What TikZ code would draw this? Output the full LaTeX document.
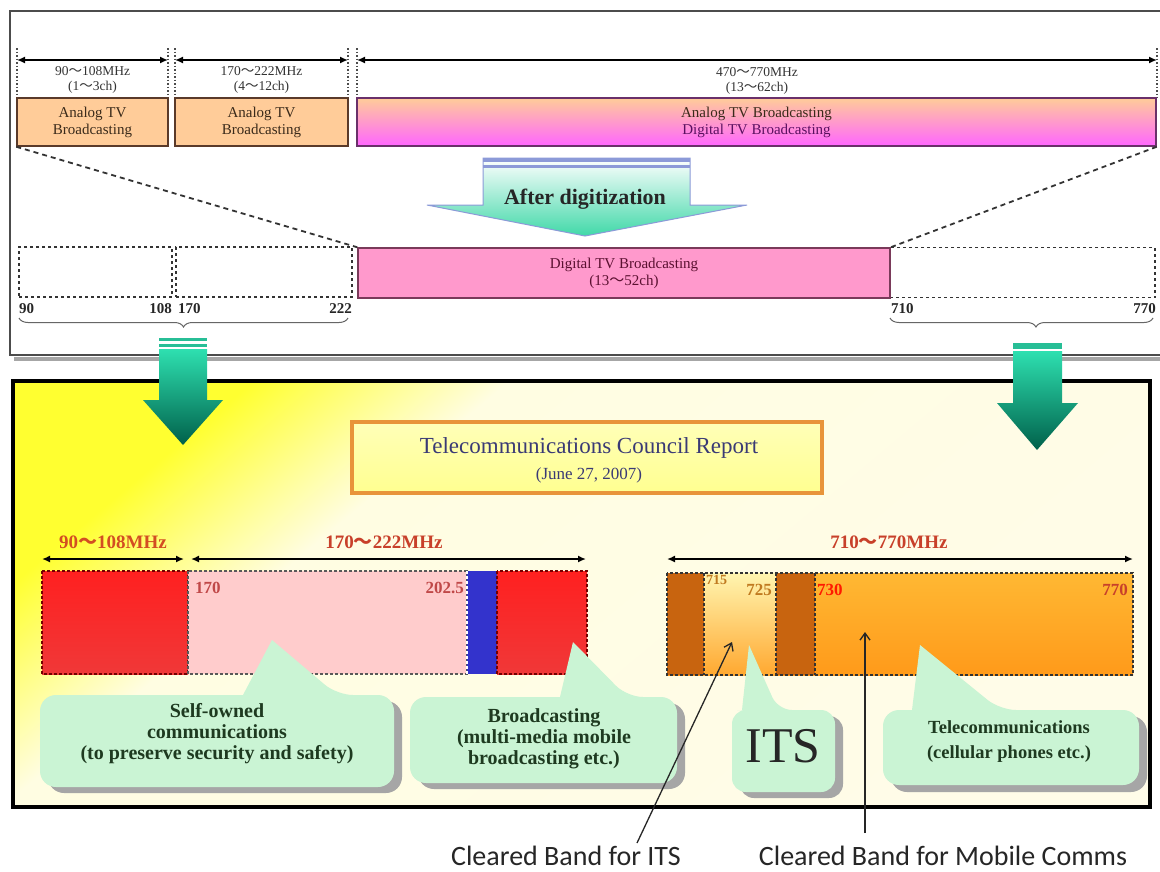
\documentclass[tikz,border=0pt]{standalone}
\usepackage{fontspec}
\setmainfont{Liberation Serif}
\newfontfamily\calfont{Carlito}
\newfontfamily\cjkfont{Noto Sans CJK SC}
\usetikzlibrary{arrows.meta,decorations.pathreplacing}
\newcommand\wtl{{\cjkfont ～}}
\definecolor{peach}{HTML}{FFCC99}
\definecolor{magen}{HTML}{FF66FF}
\definecolor{pinkd}{HTML}{FF99CC}
\definecolor{boxbrn}{HTML}{5A3A2A}
\definecolor{purp}{HTML}{6A306A}
\definecolor{wine}{HTML}{7A3A5A}
\definecolor{winetxt}{HTML}{5A1030}
\definecolor{txtbrown}{HTML}{3A2A1A}
\definecolor{txtpurp}{HTML}{5A1060}
\definecolor{mint}{HTML}{CAF4D4}
\definecolor{tealtop}{HTML}{2EE0B0}
\definecolor{tealbot}{HTML}{00604A}
\definecolor{brn}{HTML}{C8640F}
\definecolor{redbar}{HTML}{FF2020}
\definecolor{redbar2}{HTML}{F03838}
\definecolor{bluebar}{HTML}{3333CC}
\definecolor{lpink}{HTML}{FFCCCC}
\definecolor{freqred}{HTML}{C8402A}
\definecolor{numred}{HTML}{C04848}
\definecolor{numorg}{HTML}{C07A20}
\definecolor{titleblue}{HTML}{3A3A75}
\definecolor{orng}{HTML}{E8943A}
\definecolor{dgreen}{HTML}{1E3A20}
\definecolor{lav}{HTML}{8C9AD8}
\definecolor{adg}{HTML}{40D8A8}
\definecolor{byel}{HTML}{FFFF30}
\definecolor{bcream}{HTML}{FFFDE2}
\definecolor{bcream2}{HTML}{FFFCE8}
\definecolor{ty1}{HTML}{FFFFB8}
\definecolor{ty2}{HTML}{FFFF90}
\definecolor{og1}{HTML}{FFB833}
\definecolor{og2}{HTML}{FFE566}
\definecolor{og3}{HTML}{FF9A1A}
\definecolor{its1}{HTML}{FFF5B0}
\definecolor{its2}{HTML}{FFE680}
\definecolor{its3}{HTML}{FFA830}
\pgfdeclarehorizontalshading{bgsh}{100bp}{color(0bp)=(byel); color(25bp)=(byel); color(36bp)=(bcream); color(75bp)=(bcream2); color(100bp)=(bcream2)}
\tikzset{
  lbl/.style={font=\fontsize{13.5}{15}\selectfont, text=black!80, inner sep=0, text height=9pt, text depth=2pt},
  abox/.style={draw=boxbrn, line width=1.5, fill=peach, minimum height=48, inner sep=0, align=center, font=\fontsize{15}{17}\selectfont, text=txtbrown},
  dimarrow/.style={{Latex[length=8pt,width=7pt]}-{Latex[length=8pt,width=7pt]}, line width=1.5},
  ebox/.style={draw=black!80, dashed, line width=1.5, minimum height=50, inner sep=0},
  dashln/.style={draw=black!80, line width=1.8, dash pattern=on 5pt off 4pt},
  numlbl/.style={font=\bfseries\fontsize{15}{17}\selectfont, inner sep=0, text=black!85},
  brc/.style={decorate, decoration={brace, amplitude=9pt}, draw=black!60, line width=1},
  garrow/.style={top color=tealtop, bottom color=tealbot, draw=none},
  gband/.style={fill=tealtop!85!black},
  freq/.style={font=\bfseries\fontsize{19}{21}\selectfont, text=freqred, inner sep=0},
  bardash/.style={dash pattern=on 3pt off 2pt, line width=1.2},
  calbody/.style={fill=mint},
  cshadow/.style={fill=black!35},
  ctext/.style={font=\bfseries\fontsize{20}{21}\selectfont, text=dgreen, align=center, inner sep=0},
  barnum/.style={font=\bfseries\fontsize{17}{19}\selectfont, inner sep=0},
  ann/.style={-{Straight Barb[length=7pt,width=10pt]}, line width=1.3, draw=black!85},
  anntext/.style={font=\calfont\fontsize{28}{29}\selectfont, text=black!85, inner sep=0, text height=19pt, text depth=1pt}
}
\begin{document}
\begin{tikzpicture}[x=1pt,y=-1pt]
\useasboundingbox (0,0) rectangle (1160,871);
\fill[white] (0,0) rectangle (1160,871);

% ---------- top frame ----------
\draw[black!35, line width=4] (14,359) -- (1165,359);
\draw[black!70, line width=1.5] (10,11) rectangle (1175,355);

\foreach \x in {17,168,175,348,357,1157} \draw[black!70, line width=1.5, dotted] (\x,48) -- (\x,98);
\coordinate (a1l) at (17,60);  \coordinate (a1r) at (168,60);
\coordinate (a2l) at (175,60); \coordinate (a2r) at (348,60);
\coordinate (a3l) at (357,60); \coordinate (a3r) at (1157,60);
\draw[dimarrow] (a1l) -- (a1r);
\draw[dimarrow] (a2l) -- (a2r);
\draw[dimarrow] (a3l) -- (a3r);
\node[lbl] (l1a) at (92.5,72) {90\wtl108MHz};
\node[lbl] (l1b) at (92.5,87) {(1\wtl3ch)};
\node[lbl] (l2a) at (261.5,72) {170\wtl222MHz};
\node[lbl] (l2b) at (261.5,87) {(4\wtl12ch)};
\node[lbl] (l3a) at (757,73) {470\wtl770MHz};
\node[lbl] (l3b) at (757,88) {(13\wtl62ch)};

\node[abox, minimum width=151] (b1) at (92.5,122) {Analog TV\\Broadcasting};
\node[abox, minimum width=173] (b2) at (261.5,122) {Analog TV\\Broadcasting};
\node[abox, minimum width=799, top color=peach, bottom color=magen, draw=purp] (b3) at (756.5,122)
  {{\color{txtbrown}Analog TV Broadcasting}\\{\color{txtpurp}Digital TV Broadcasting}};

% after digitization arrow
\path[draw=lav, line width=1, top color=white, bottom color=adg]
  (483,158) -- (690,158) -- (690,205) -- (747,205) -- (585,236) -- (427,205) -- (483,205) -- cycle;
\fill[lav] (483,158) rectangle (690,161.5);
\fill[lav] (483,164.5) rectangle (690,168);
\node[font=\bfseries\fontsize{22}{24}\selectfont, text=black!85, inner sep=0] (ad) at (585,199) {After digitization};

% after boxes
\node[ebox, minimum width=153] (eA) at (95.5,272) {};
\node[ebox, minimum width=176] (eB) at (264,272) {};
\node[ebox, minimum width=265] (eC) at (1022.5,272.5) {};
\node[draw=wine, line width=1.5, fill=pinkd, minimum width=532, minimum height=50, inner sep=0, align=center,
      font=\fontsize{15}{17}\selectfont, text=winetxt] (dig) at (624,273) {Digital TV Broadcasting\\(13\wtl52ch)};
\draw[dashln] (b1.south west) -- (dig.north west);
\draw[dashln] (b3.south east) -- (dig.north east);

\node[numlbl, anchor=west] (n90) at (19,309) {90};
\node[numlbl, anchor=east] (n108) at (172,309) {108};
\node[numlbl, anchor=west] (n170) at (178,309) {170};
\node[numlbl, anchor=east] (n222) at (352,309) {222};
\node[numlbl, anchor=west] (n710) at (891,309) {710};
\node[numlbl, anchor=east] (n770) at (1156,309) {770};
\draw[brc] (348,318) -- (19,318);
\draw[brc, decoration={brace, amplitude=9pt, aspect=0.445}] (1153,318) -- (890,318);

% ---------- bottom frame ----------
\shade[shading=bgsh, shading angle=-50] (13,381) rectangle (1150,807);
\draw[line width=4] (13,381) rectangle (1150,807);

% green arrows
\path[garrow] (159,349) -- (207,349) -- (207,400) -- (223,400) -- (183,445) -- (143,400) -- (159,400) -- cycle;
\fill[gband] (159,338) rectangle (207,341);
\fill[gband] (159,343.5) rectangle (207,347);
\path[garrow] (1013,351) -- (1062,351) -- (1062,403) -- (1078,403) -- (1037,450) -- (997,403) -- (1013,403) -- cycle;
\fill[gband] (1013,343) rectangle (1062,349);

% title
\node[draw=orng, line width=4, top color=ty1, bottom color=ty2, minimum width=470, minimum height=71, inner sep=0] (title) at (587,457.5) {};
\node[font=\fontsize{23}{25}\selectfont, text=titleblue, inner sep=0] (t1) at (589,448) {Telecommunications Council Report};
\node[font=\fontsize{17}{19}\selectfont, text=titleblue, inner sep=0] (t2) at (589,475) {(June 27, 2007)};

% frequency ranges
\node[freq, text=freqred!80!orange] (f1) at (113,542) {90\wtl108MHz};
\node[freq] (f2) at (384,542) {170\wtl222MHz};
\node[freq] (f3) at (889,542) {710\wtl770MHz};
\coordinate (f1l) at (42,559);  \coordinate (f1r) at (184,559);
\coordinate (f2l) at (191,559); \coordinate (f2r) at (586,559);
\coordinate (f3l) at (667,559); \coordinate (f3r) at (1133,559);
\draw[dimarrow, line width=2] (f1l) -- (f1r);
\draw[dimarrow, line width=2] (f2l) -- (f2r);
\draw[dimarrow, line width=2] (f3l) -- (f3r);

% bars
\shade[top color=redbar, bottom color=redbar2] (42,571) rectangle (188,674);
\draw[bardash, draw=red!45!black] (42,571) rectangle (188,674);
\fill[lpink] (188,571) rectangle (467,674);
\draw[bardash, draw=black!65] (188,571) rectangle (467,674);
\fill[bluebar] (467,571) rectangle (497,674);
\draw[bardash, draw=white] (467,571) -- (467,674);
\shade[top color=redbar, bottom color=redbar2] (497,571) rectangle (587,674);
\draw[bardash, draw=red!45!black] (497,571) rectangle (587,674);

\shade[top color=og1, middle color=og2, bottom color=og3] (667,573) rectangle (1133,675);
\shade[top color=its1, middle color=its2, bottom color=its3] (704,573) rectangle (776,675);
\fill[brn] (667,573) rectangle (704,675);
\fill[brn] (776,573) rectangle (815,675);
\draw[bardash, draw=black!80] (667,573) rectangle (1133,675);
\draw[bardash, draw=black!80] (704,573) -- (704,675);
\draw[bardash, draw=black!80] (776,573) -- (776,675) (815,573) -- (815,675);

\node[barnum, text=numred, anchor=west] (m170) at (195,588) {170};
\node[barnum, text=numred, anchor=east] (m2025) at (464,588) {202.5};
\node[barnum, text=numorg, anchor=west, font=\bfseries\fontsize{14}{16}\selectfont] (m715) at (706,580) {715};
\node[barnum, text=numorg, anchor=east] (m725) at (772,590) {725};
\node[barnum, text=red!80!orange, anchor=west] (m730) at (817,590) {730};
\node[barnum, text=freqred, anchor=east] (m770) at (1128,590) {770};

% callouts
\fill[cshadow, rounded corners=16pt] (48,701) rectangle (402,793);
\path[calbody] (200,695) [rounded corners=16pt] -- (40,695) -- (40,787) -- (394,787) -- (394,695) -- (337,695)
  [sharp corners] -- (272,640) -- (243,695) -- cycle;
\node[ctext] (c1) at (217,734) {Self-owned\\communications\\(to preserve security and safety)};

\fill[cshadow, rounded corners=16pt] (418,703) rectangle (685,789);
\path[calbody] (480,697) [rounded corners=16pt] -- (410,697) -- (410,783) -- (677,783) -- (677,697) -- (627,697)
  [sharp corners] -- (573,642) -- (560,697) -- cycle;
\node[ctext] (c2) at (544,739) {Broadcasting\\(multi-media mobile\\broadcasting etc.)};

\fill[cshadow, rounded corners=14pt] (740,716) rectangle (843,798);
\path[calbody] (737,710) [rounded corners=14pt] -- (732,710) -- (732,792) -- (835,792) -- (835,710) -- (778,710)
  [sharp corners] -- (749,645) -- (742,710) -- cycle;
\node[font=\fontsize{50}{52}\selectfont, text=black!85, inner sep=0] (its) at (783,746) {ITS};

\fill[cshadow, rounded corners=16pt] (891,716) rectangle (1147,792);
\path[calbody] (900,710) [rounded corners=16pt] -- (883,710) -- (883,785) -- (1139,785) -- (1139,710) -- (1000,710)
  [sharp corners] -- (920,645) -- (912,710) -- cycle;
\node[ctext, font=\bfseries\fontsize{18.5}{25}\selectfont] (c4) at (1009,742) {Telecommunications\\(cellular phones etc.)};

% annotations
\node[anntext] (lits) at (566,856) {Cleared Band for ITS};
\node[anntext] (lmob) at (943,856) {Cleared Band for Mobile Comms};
\coordinate (itsFoot) at (637,843); \coordinate (itsTip) at (732,642);
\coordinate (mobFoot) at (865,833); \coordinate (mobTip) at (865,632);
\draw[ann] (itsFoot) -- (itsTip);
\draw[ann] (mobFoot) -- (mobTip);
\end{tikzpicture}
\end{document}
